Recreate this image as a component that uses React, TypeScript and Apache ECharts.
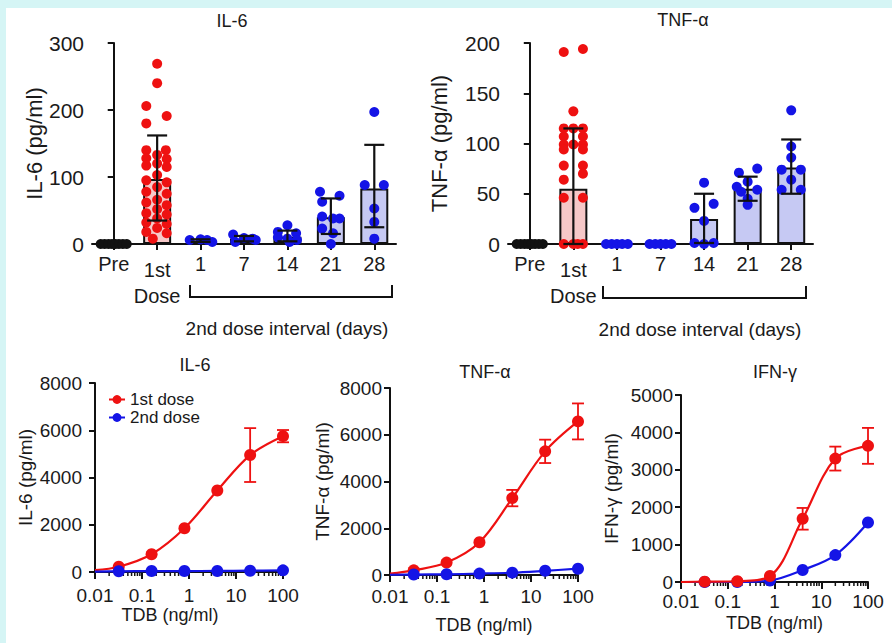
import React, { useEffect, useRef } from 'react';
import * as echarts from 'echarts';

const FONT = 'Liberation Sans, Arial, Helvetica, sans-serif';
const RED = '#ee1111';
const BLUE = '#1414e6';
const BLACK = '#111111';
const PINK = '#f6c8c8';
const LAV = '#c6c9f3';

// ---------- top panels ----------
const categories = ['Pre', '1st', '1', '7', '14', '21', '28'];

const il6Mean = [0, 97, 5, 8, 11, 40, 83];
const il6Low = [0, 35, 3, 4, 4, 15, 25];
const il6High = [0, 162, 7, 12, 20, 68, 148];

const tnfMean = [0, 55, 0, 0, 25, 55, 76];
const tnfLow = [0, 0, 0, 0, 1, 43, 50];
const tnfHigh = [0, 115, 0, 0, 50, 67, 104];

// dots: [category index, horizontal jitter (category units), value]
const il6Dots: number[][] = [
  [0, -0.3, 0], [0, -0.21, 0], [0, -0.12, 0], [0, -0.04, 0], [0, 0.04, 0], [0, 0.12, 0], [0, 0.21, 0], [0, 0.3, 0],
  [1, 0, 269], [1, 0, 240], [1, -0.25, 206], [1, 0.22, 191], [1, -0.25, 180],
  [1, -0.25, 140], [1, 0.2, 140], [1, 0, 133], [1, -0.25, 128], [1, 0.22, 127], [1, 0, 120], [1, -0.25, 117], [1, 0.22, 115],
  [1, 0, 103], [1, -0.25, 95], [1, 0.22, 92], [1, 0, 85], [1, -0.25, 78], [1, 0.22, 75],
  [1, 0, 66], [1, -0.25, 62], [1, 0.22, 58], [1, 0, 52], [1, -0.25, 46], [1, 0.22, 44], [1, 0, 38],
  [1, -0.25, 32], [1, 0.22, 30], [1, 0, 24], [1, -0.25, 18], [1, 0.22, 16], [1, -0.1, 8],
  [2, -0.25, 6], [2, 0, 7], [2, 0.15, 6], [2, 0.27, 3],
  [3, -0.25, 14], [3, -0.2, 3], [3, 0, 9], [3, 0.2, 8], [3, 0.27, 6],
  [4, 0, 28], [4, -0.22, 18], [4, 0.2, 16], [4, -0.22, 10], [4, 0, 8], [4, 0.22, 6], [4, 0.05, 3],
  [5, -0.25, 78], [5, 0.2, 72], [5, -0.2, 63], [5, -0.2, 41], [5, 0.05, 38], [5, 0.2, 38], [5, -0.2, 23], [5, 0.05, 16], [5, 0, 0],
  [6, 0, 197], [6, -0.22, 88], [6, 0.22, 88], [6, 0, 53], [6, 0, 33], [6, 0, 8],
];

const tnfDots: number[][] = [
  [0, -0.3, 0], [0, -0.21, 0], [0, -0.12, 0], [0, -0.04, 0], [0, 0.04, 0], [0, 0.12, 0], [0, 0.21, 0], [0, 0.3, 0],
  [1, -0.22, 191], [1, 0.22, 194], [1, 0, 132], [1, -0.22, 115], [1, 0, 115], [1, 0.22, 115], [1, -0.22, 107], [1, 0.22, 107],
  [1, -0.22, 99], [1, 0, 99], [1, 0.22, 99], [1, -0.22, 94], [1, 0.22, 94], [1, -0.22, 78], [1, 0.22, 78], [1, 0.22, 70],
  [1, -0.22, 64], [1, -0.22, 46], [1, 0.22, 46], [1, -0.22, 0], [1, 0, 0], [1, 0.22, 0], [1, 0.1, 0],
  [2, -0.25, 0], [2, -0.12, 0], [2, 0, 0], [2, 0.12, 0], [2, 0.25, 0],
  [3, -0.25, 0], [3, -0.12, 0], [3, 0, 0], [3, 0.12, 0], [3, 0.25, 0],
  [4, 0, 61], [4, -0.22, 36], [4, 0.22, 40], [4, 0, 23], [4, -0.22, 1], [4, 0.22, 1], [4, 0, 0],
  [5, -0.2, 71], [5, 0.22, 75], [5, 0, 62], [5, -0.25, 57], [5, 0.22, 54], [5, -0.15, 52], [5, 0, 45], [5, 0, 39],
  [6, 0, 133], [6, 0, 97], [6, 0, 86], [6, -0.22, 74], [6, 0.22, 74], [6, 0, 64], [6, -0.22, 54], [6, 0.22, 54],
];

// ---------- bottom panels ----------
const conc = [0.032, 0.16, 0.8, 4, 20, 100];

const il6First = [220, 750, 1850, 3450, 4950, 5750];
const il6FirstSd = [0, 0, 0, 0, 1140, 260];
const il6Second = [30, 40, 40, 45, 55, 70];
const il6Start = [80, 20]; // fitted curves at 0.01 ng/ml (1st, 2nd)

const tnfFirst = [200, 530, 1400, 3290, 5290, 6570];
const tnfFirstSd = [0, 0, 0, 350, 500, 770];
const tnfSecond = [20, 30, 60, 100, 180, 270];
const tnfStart = [60, 10];

const ifnFirst = [10, 20, 160, 1690, 3300, 3640];
const ifnFirstSd = [0, 0, 0, 290, 320, 480];
const ifnSecond = [0, 0, 40, 320, 720, 1590];
const ifnStart = [0, 0];

const logDecades = [0.01, 0.1, 1, 10];
const minorMultipliers = [2, 3, 4, 5, 6, 7, 8, 9];

function errRender(color: string, half: number, lw: number) {
  return (params: any, api: any) => {
    const x = api.value(0);
    const lo = api.value(1);
    const hi = api.value(2);
    if (!(hi > lo)) return { type: 'group', children: [] };
    const p1 = api.coord([x, lo]);
    const p2 = api.coord([x, hi]);
    const st = { stroke: color, lineWidth: lw };
    return {
      type: 'group',
      children: [
        { type: 'line', shape: { x1: p1[0], y1: p1[1], x2: p2[0], y2: p2[1] }, style: st },
        { type: 'line', shape: { x1: p1[0] - half, y1: p1[1], x2: p1[0] + half, y2: p1[1] }, style: st },
        { type: 'line', shape: { x1: p2[0] - half, y1: p2[1], x2: p2[0] + half, y2: p2[1] }, style: st },
      ],
    };
  };
}

export default function App() {
  const ref = useRef<HTMLDivElement>(null);

  useEffect(() => {
    if (!ref.current) return;
    const chart = echarts.init(ref.current, undefined, { renderer: 'svg' });

    const axisLineStyle = { lineStyle: { color: BLACK, width: 2 } };

    const catAxis = (grid: number) => ({
      type: 'category',
      gridIndex: grid,
      data: categories,
      axisLine: { show: true, onZero: false, ...axisLineStyle },
      axisTick: { show: true, alignWithLabel: true, interval: 0, length: 6, lineStyle: { color: BLACK, width: 2 } },
      axisLabel: {
        interval: 0,
        hideOverlap: false,
        fontFamily: FONT,
        fontSize: 20,
        color: '#1a1a1a',
        margin: 10,
        formatter: (v: string) => (v === '1st' ? '{a|1st}\n{b|Dose}' : v),
        rich: {
          a: { fontFamily: FONT, fontSize: 20, color: '#1a1a1a', lineHeight: 32 },
          b: { fontFamily: FONT, fontSize: 20, color: '#1a1a1a', lineHeight: 20 },
        },
      },
    });
    const hiddenX = (grid: number) => ({ type: 'value', gridIndex: grid, min: -0.5, max: 6.5, show: false });

    const logAxis = (grid: number, gap: number, pad: number[], labelMargin: number) => ({
      type: 'log',
      gridIndex: grid,
      logBase: 10,
      min: 0.01,
      max: 100,
      name: 'TDB (ng/ml)',
      nameLocation: 'middle',
      nameGap: gap,
      nameTextStyle: { fontFamily: FONT, fontSize: 18, color: '#1a1a1a', padding: pad },
      axisLine: { show: true, onZero: false, ...axisLineStyle },
      axisTick: { show: true, length: 7, lineStyle: { color: BLACK, width: 2 } },
      axisLabel: {
        fontFamily: FONT,
        fontSize: 19,
        color: '#1a1a1a',
        margin: labelMargin,
        formatter: (v: number) => String(+Number(v).toPrecision(3)),
      },
      splitLine: { show: false },
    });

    const valAxis = (grid: number, max: number, interval: number, name: string, gap: number, fs: number, nfs: number, margin: number) => ({
      type: 'value',
      gridIndex: grid,
      min: 0,
      max,
      interval,
      name,
      nameLocation: 'middle',
      nameGap: gap,
      nameRotate: 90,
      nameTextStyle: { fontFamily: FONT, fontSize: nfs, color: '#1a1a1a' },
      axisLine: { show: true, ...axisLineStyle },
      axisTick: { show: true, length: 6, lineStyle: { color: BLACK, width: 2 } },
      axisLabel: { fontFamily: FONT, fontSize: fs, color: '#1a1a1a', margin, formatter: (v: number) => String(v) },
      splitLine: { show: false },
    });

    const dotSeries = (dots: number[][], xIdx: number, yIdx: number) => {
      const groups = [
        { color: BLACK, filter: (c: number) => c === 0 },
        { color: RED, filter: (c: number) => c === 1 },
        { color: BLUE, filter: (c: number) => c >= 2 },
      ];
      return groups.map((g) => ({
        type: 'scatter',
        xAxisIndex: xIdx,
        yAxisIndex: yIdx,
        symbolSize: 10,
        z: 3,
        itemStyle: { color: g.color, opacity: 1 },
        data: dots.filter((d) => g.filter(d[0])).map((d) => [d[0] + d[1], d[2]]),
        silent: true,
      }));
    };

    const barSeries = (means: number[], xIdx: number, yIdx: number) => ({
      type: 'bar',
      xAxisIndex: xIdx,
      yAxisIndex: yIdx,
      barWidth: 28,
      z: 2,
      data: means.map((m, i) => ({
        value: m,
        itemStyle: {
          color: i === 0 ? 'transparent' : i === 1 ? PINK : LAV,
          borderColor: i === 0 ? 'transparent' : BLACK,
          borderWidth: 2,
        },
      })),
      silent: true,
    });

    const topErr = (low: number[], high: number[], xIdx: number, yIdx: number) => ({
      type: 'custom',
      xAxisIndex: xIdx,
      yAxisIndex: yIdx,
      z: 4,
      encode: { x: 0, y: [1, 2] },
      renderItem: errRender(BLACK, 10, 2.2),
      data: low.map((l, i) => [i, l, high[i]]),
      silent: true,
    });

    const curve = (name: string, color: string, start: number, vals: number[], xIdx: number, yIdx: number, z: number) => ({
      type: 'line',
      name,
      xAxisIndex: xIdx,
      yAxisIndex: yIdx,
      smooth: 0.35,
      symbol: 'circle',
      symbolSize: 12,
      z,
      lineStyle: { color, width: 2.2 },
      itemStyle: { color },
      data: [{ value: [0.01, start], symbol: 'none' }, ...conc.map((c, i) => [c, vals[i]])],
      silent: true,
    });

    const botErr = (vals: number[], sd: number[], xIdx: number, yIdx: number) => ({
      type: 'custom',
      xAxisIndex: xIdx,
      yAxisIndex: yIdx,
      z: 6,
      encode: { x: 0, y: [1, 2] },
      renderItem: errRender(RED, 6, 1.8),
      data: conc.map((c, i) => [c, vals[i] - sd[i], vals[i] + sd[i]]),
      silent: true,
    });

    const minorTicks = (xIdx: number, yIdx: number) => ({
      type: 'custom',
      xAxisIndex: xIdx,
      yAxisIndex: yIdx,
      z: 1,
      renderItem: (params: any, api: any) => {
        const p = api.coord([api.value(0), 0]);
        return {
          type: 'line',
          shape: { x1: p[0], y1: p[1], x2: p[0], y2: p[1] + 4 },
          style: { stroke: BLACK, lineWidth: 1.5 },
        };
      },
      data: logDecades.flatMap((d) => minorMultipliers.map((k) => [d * k, 0])),
      silent: true,
    });

    const titleText = (text: string, x: number, y: number) => ({
      type: 'text',
      x,
      y,
      style: { text, fontFamily: FONT, fontSize: 18, fill: '#1a1a1a', textAlign: 'center', textVerticalAlign: 'middle' },
    });

    const bracket = (x1: number, x2: number, y: number, cx: number) => [
      {
        type: 'polyline',
        shape: { points: [[x1, y - 12], [x1, y], [x2, y], [x2, y - 12]] },
        style: { stroke: BLACK, lineWidth: 2, fill: 'none' },
      },
      {
        type: 'text',
        x: cx,
        y: y + 31,
        style: { text: '2nd dose interval (days)', fontFamily: FONT, fontSize: 19, fill: '#1a1a1a', textAlign: 'center', textVerticalAlign: 'middle' },
      },
    ];

    const option: any = {
      animation: false,
      backgroundColor: 'transparent',
      grid: [
        { left: 92, top: 43, width: 304, height: 201 },
        { left: 508, top: 43, width: 305, height: 201 },
        { left: 95, top: 383, width: 188, height: 189 },
        { left: 390, top: 388, width: 188, height: 187 },
        { left: 681, top: 395, width: 187, height: 187 },
      ],
      xAxis: [
        catAxis(0),
        hiddenX(0),
        catAxis(1),
        hiddenX(1),
        logAxis(2, 31, [0, 38, 0, 0], 14),
        logAxis(3, 41, [0, 0, 0, 0], 12),
        logAxis(4, 32, [0, 0, 0, 0], 10),
      ],
      yAxis: [
        valAxis(0, 300, 100, 'IL-6 (pg/ml)', 36, 21, 22, 8),
        valAxis(1, 200, 50, 'TNF-α (pg/ml)', 58, 21, 22, 8),
        valAxis(2, 8000, 2000, 'IL-6 (pg/ml)', 60, 19, 19, 13),
        valAxis(3, 8000, 2000, 'TNF-α (pg/ml)', 58, 19, 19, 8),
        valAxis(4, 5000, 1000, 'IFN-γ (pg/ml)', 60, 19, 19, 8),
      ],
      legend: {
        left: 103,
        top: 386,
        orient: 'vertical',
        itemWidth: 16,
        itemHeight: 11,
        itemGap: 1,
        textStyle: { fontFamily: FONT, fontSize: 17, color: '#1a1a1a' },
        data: ['1st dose', '2nd dose'],
        selectedMode: false,
      },
      series: [
        barSeries(il6Mean, 0, 0),
        ...dotSeries(il6Dots, 1, 0),
        topErr(il6Low, il6High, 1, 0),
        barSeries(tnfMean, 2, 1),
        ...dotSeries(tnfDots, 3, 1),
        topErr(tnfLow, tnfHigh, 3, 1),

        minorTicks(4, 2),
        curve('1st dose', RED, il6Start[0], il6First, 4, 2, 3),
        curve('2nd dose', BLUE, il6Start[1], il6Second, 4, 2, 4),
        botErr(il6First, il6FirstSd, 4, 2),

        minorTicks(5, 3),
        curve('1st dose', RED, tnfStart[0], tnfFirst, 5, 3, 3),
        curve('2nd dose', BLUE, tnfStart[1], tnfSecond, 5, 3, 4),
        botErr(tnfFirst, tnfFirstSd, 5, 3),

        minorTicks(6, 4),
        curve('2nd dose', BLUE, ifnStart[1], ifnSecond, 6, 4, 3),
        curve('1st dose', RED, ifnStart[0], ifnFirst, 6, 4, 4),
        botErr(ifnFirst, ifnFirstSd, 6, 4),
      ],
      graphic: [
        titleText('IL-6', 232, 21),
        titleText('TNF-α', 683, 20),
        titleText('IL-6', 195, 365),
        titleText('TNF-α', 485, 372),
        titleText('IFN-γ', 775, 372),
        ...bracket(190, 392, 297, 287),
        ...bracket(603, 806, 298, 700),
      ],
    };

    chart.setOption(option);
    return () => chart.dispose();
  }, []);

  return (
    <div style={{ position: 'absolute', left: 0, top: 0, width: 892, height: 643, background: 'rgb(213,245,245)', overflow: 'hidden' }}>
      <div style={{ position: 'absolute', left: 6, top: 8, right: 0, bottom: 0, background: '#ffffff' }} />
      <div ref={ref} style={{ position: 'absolute', left: 0, top: 0, width: 892, height: 643 }} />
    </div>
  );
}
